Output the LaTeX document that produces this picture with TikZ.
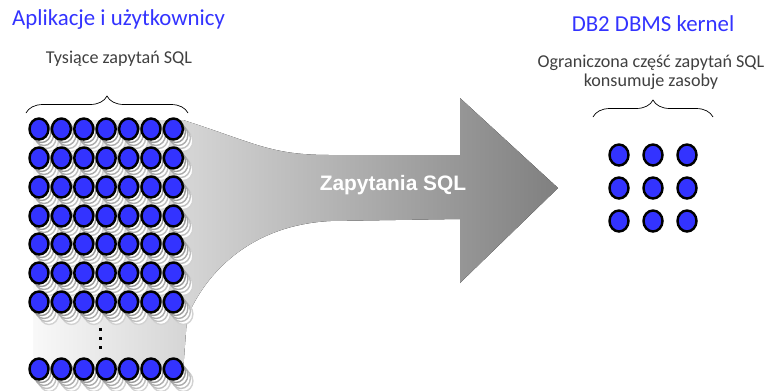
\documentclass[tikz,border=0pt]{standalone}
\usepackage{fontspec}
\setmainfont{Carlito}
\newfontfamily\flowfont{Liberation Sans}
\usetikzlibrary{shapes.geometric, decorations.pathreplacing, positioning}
\definecolor{querycol}{RGB}{51, 51, 255}
\definecolor{titlecol}{RGB}{51, 51, 255}
\definecolor{labelcol}{RGB}{64, 64, 64}

\begin{document}
\begin{tikzpicture}[x=0.02cm, y=-0.02cm,
    query/.style={ellipse, draw, line width=1.4pt, fill=querycol,
                  minimum width=0.38cm, minimum height=0.42cm, inner sep=0pt},
    ghost/.style={draw=#1, line width=0.8pt, fill=white},
    title/.style={text=titlecol, font=\fontsize{13}{15}\selectfont},
    note/.style={text=labelcol, align=center, font=\fontsize{10.3}{11}\selectfont},
    bracket/.style={decorate, decoration={brace, amplitude=0.34cm}, thin}]
    \useasboundingbox (0,0) rectangle (768,390);

    % flow of queries
    \fill[left color=gray!5, right color=gray] (33,120) -- (183,120)
        .. controls (255,143) and (270,155) .. (330,155) -- (460,155) -- (460,98)
        -- (558,188) -- (460,283) -- (460,219) -- (330,221)
        .. controls (240,226) and (200,285) .. (187,318) -- (183,372) -- (33,372) -- cycle;
    \node[font=\flowfont\bfseries\fontsize{11.9}{13}\selectfont, text=white] (flow) at (393,185) {Zapytania SQL};

    % applications side
    \node[title, anchor=west] (apps) at (6,20) {Aplikacje i użytkownicy};
    \node[note] (many) at (119,59) {Tysiące zapytań SQL};
    \coordinate (lb1) at (26,113);
    \coordinate (lb2) at (188,113);
    \draw[bracket] (lb1) -- (lb2);

    \foreach \y in {129,158,187,216,244,273,302,369}
        \foreach \c in {0,...,6}
            \foreach \k/\s in {4/35,3/50,2/65,1/80}
                \draw[ghost=gray!\s] (39+22.4*\c+2.5*\k, \y+3*\k) ellipse [x radius=9.5, y radius=10.5];
    \foreach \y [count=\r] in {129,158,187,216,244,273,302,369}
        \foreach \c in {1,...,7}
            \node[query] (q\r-\c) at (16.6+22.4*\c, \y) {};
    \foreach \y in {328,337,346}
        \fill (99,\y) rectangle ++(3,3);

    % kernel side
    \node[title] (kernel) at (653,24) {DB2 DBMS kernel};
    \node[note] (few) at (651,72) {Ograniczona część zapytań SQL\\konsumuje zasoby};
    \coordinate (rb1) at (593,117);
    \coordinate (rb2) at (713,117);
    \draw[bracket] (rb1) -- (rb2);
    \foreach \y [count=\r] in {155,188,221}
        \foreach \x [count=\c] in {619,653,687}
            \node[query] (k\r-\c) at (\x,\y) {};
\end{tikzpicture}
\end{document}
